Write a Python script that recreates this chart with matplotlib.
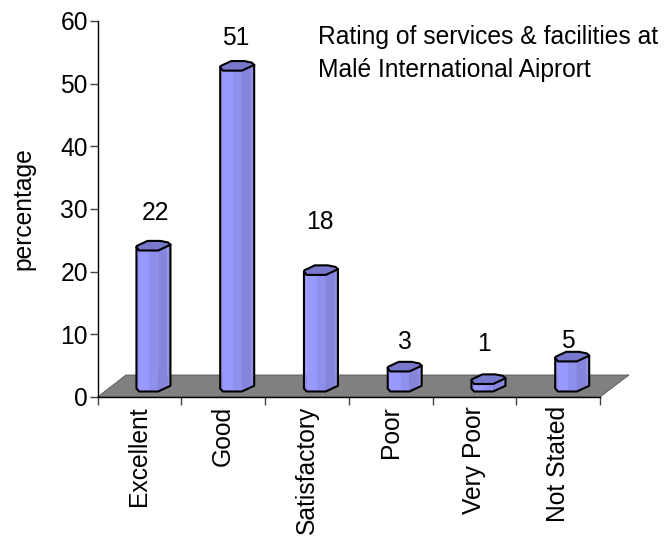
import matplotlib
matplotlib.use("Agg")
import matplotlib.pyplot as plt
from matplotlib.patches import Polygon

plt.rcParams['font.family'] = ['Liberation Sans', 'DejaVu Sans']

categories = ["Excellent", "Good", "Satisfactory", "Poor", "Very Poor", "Not Stated"]
value_labels = ["22", "51", "18", "3", "1", "5"]
bar_heights = [22.5, 51.2, 18.6, 3.2, 1.2, 4.8]
label_y = [29.3, 57.3, 27.9, 8.8, 8.4, 8.9]
label_x = [0.69, 1.65, 2.65, 3.67, 4.61, 5.62]
y_ticks = [0, 10, 20, 30, 40, 50, 60]

W, H = 665, 538
FS = 17.7
fig = plt.figure(figsize=(W / 100, H / 100), dpi=100)
L, R, T, B = 97.5, 600, 21, 397
ax = fig.add_axes([L / W, 1 - B / H, (R - L) / W, (B - T) / H])
ax.set_xlim(0, 6)
ax.set_ylim(0, 60)
for s in ("top", "right"):
    ax.spines[s].set_visible(False)
for s in ("left", "bottom"):
    ax.spines[s].set_linewidth(1.0)

px = 6 / (R - L)       # data units per pixel, x
py = 60 / (B - T)      # data units per pixel, y

# floor
ax.add_patch(Polygon([(0, 0), (6, 0), (6 + 29 * px, 22 * py), (28.5 * px, 22 * py)],
                     closed=True, fc="#808080", ec="#555555", lw=0.6, clip_on=False, zorder=1))

strip_colors = ["#9090F2", "#9999FF", "#8F8FEE", "#8585DD", "#9090E8"]
x_off = [0, 2.7, 13, 21.7, 31, 34]
bottom_off = [3.0, 0, 0, 0, 4.6, 5.7]
base_top = [3.3, 0, 0, 0, 4.6, 5.7]
top_ring = [(0, 3.3), (2.7, 0), (21.7, 0), (34, 5.7), (31.7, 8.0), (24, 9.6), (11, 9.6), (0.5, 4.7)]
base_y = (397 - 391.5) * py

for i, h in enumerate(bar_heights):
    x0 = i + 0.465
    yt = base_y + h
    for k, c in enumerate(strip_colors):
        xa, xb = x0 + x_off[k] * px, x0 + x_off[k + 1] * px
        ya_b, yb_b = bottom_off[k], bottom_off[k + 1]
        ya_t, yb_t = base_top[k], base_top[k + 1]
        ax.add_patch(Polygon([(xa, base_y + ya_b * py), (xb, base_y + yb_b * py),
                              (xb, yt + yb_t * py), (xa, yt + ya_t * py)],
                             closed=True, fc=c, ec=c, lw=0.2, zorder=3, clip_on=False))
    # outline of the body
    outline = [(x0, yt + 3.3 * py), (x0, base_y + 3 * py), (x0 + 2.7 * px, base_y),
               (x0 + 21.7 * px, base_y), (x0 + 34 * px, base_y + 5.7 * py), (x0 + 34 * px, yt + 5.7 * py)]
    ax.plot(*zip(*outline), color="black", lw=1.5, zorder=4, clip_on=False, solid_joinstyle="round")
    # top face
    ring = [(x0 + a * px, yt + b * py) for a, b in top_ring]
    ax.add_patch(Polygon(ring, closed=True, fc="#7777CC", ec="black", lw=1.5, zorder=5,
                         clip_on=False, joinstyle="round"))
    ax.text(label_x[i], label_y[i], value_labels[i], ha="center", va="center",
            fontsize=FS, color="black", zorder=6)

ax.set_yticks(y_ticks)
ax.set_yticklabels([str(v) for v in y_ticks], fontsize=FS)
ax.tick_params(axis="y", length=6, width=1.0, color="#444444", pad=1)
ax.set_xticks(range(7))
ax.set_xticklabels([""] * 7)
ax.tick_params(axis="x", length=6, width=1.0, color="#444444")
for i, name in enumerate(categories):
    ax.annotate(name, xy=(i + 0.5, 0), xytext=(0, -6.5), textcoords="offset points",
                rotation=90, ha="center", va="top", fontsize=FS, annotation_clip=False)

fig.text(23 / W, 1 - 209 / H, "percentage", rotation=90, ha="center", va="center", fontsize=FS)
fig.text(318 / W, 1 - 37 / H, "Rating of services & facilities at", ha="left", va="center", fontsize=FS)
fig.text(318 / W, 1 - 70 / H, "Malé International Aiprort", ha="left", va="center", fontsize=FS)

fig.savefig("out.png", dpi=100)
